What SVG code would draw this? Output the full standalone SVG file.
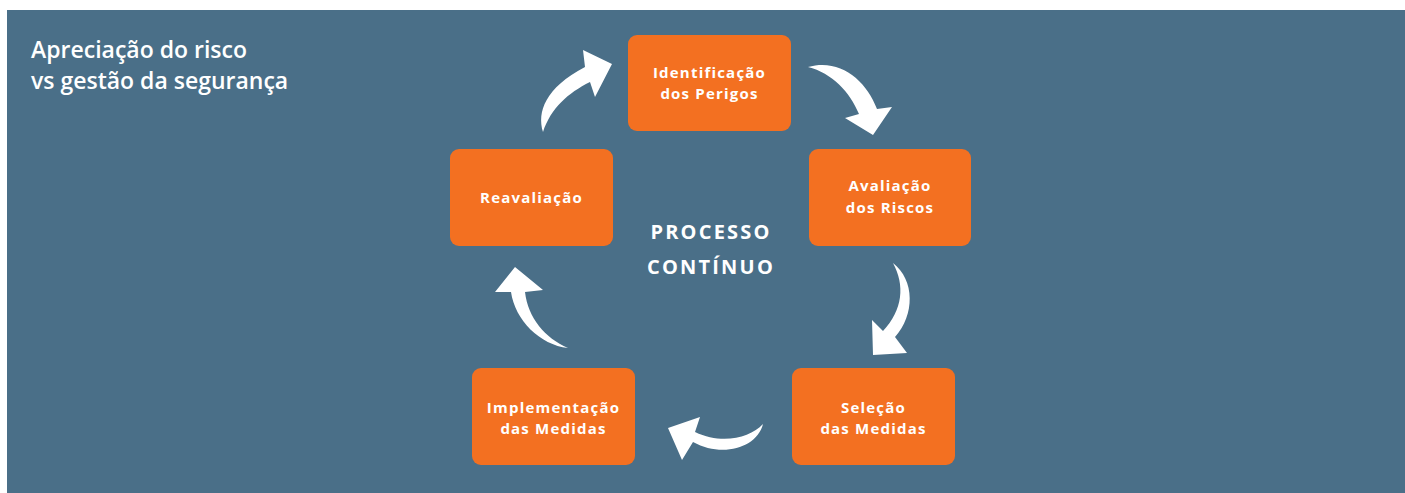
<svg xmlns="http://www.w3.org/2000/svg" width="1405" height="493" viewBox="0 0 1405 493">
<style>
.node rect{fill:#f37021;}
.node text{fill:#ffffff;font-family:"Open Sans","Noto Sans",sans-serif;font-weight:700;font-size:15px;letter-spacing:1.2px;text-anchor:middle;}
.title{fill:#ffffff;font-family:"Open Sans","Noto Sans",sans-serif;font-weight:600;font-size:23px;}
.center{fill:#ffffff;font-family:"Open Sans","Noto Sans",sans-serif;font-weight:700;font-size:20px;letter-spacing:2.2px;text-anchor:middle;}
.arrow{fill:#ffffff;stroke:none;}
</style>
<rect x="7" y="10" width="1398" height="483" fill="#4a6f88"/>
<text class="title" x="31" y="58">Apreciação do risco</text>
<text class="title" x="31" y="89">vs gestão da segurança</text>
<text class="center" x="711" y="239">PROCESSO</text>
<text class="center" x="711" y="274">CONTÍNUO</text>
<g id="node-identificacao" class="node">
<rect x="628" y="35" width="163" height="96" rx="9"/>
<text x="709.5" y="78">Identificação</text>
<text x="709.5" y="99">dos Perigos</text>
</g>
<g id="node-avaliacao" class="node">
<rect x="809" y="149" width="162" height="97" rx="9"/>
<text x="890" y="191">Avaliação</text>
<text x="890" y="213">dos Riscos</text>
</g>
<g id="node-selecao" class="node">
<rect x="792" y="368" width="163" height="97" rx="9"/>
<text x="873.5" y="413">Seleção</text>
<text x="873.5" y="434">das Medidas</text>
</g>
<g id="node-implementacao" class="node">
<rect x="472" y="368" width="163" height="97" rx="9"/>
<text x="553.5" y="413">Implementação</text>
<text x="553.5" y="434">das Medidas</text>
</g>
<g id="node-reavaliacao" class="node">
<rect x="450" y="149" width="163" height="97" rx="9"/>
<text x="531.5" y="203">Reavaliação</text>
</g>
<g id="connectors">
<path class="arrow" d="M543,132 C537,112 545,88 585,67 L583,50 L612,64 L595,97 L590,82 C568,93 551,108 543,132 Z"/>
<path class="arrow" d="M808,67 C840,58 866,80 877,109 L892,107 L873,135 L845,118 L859,114 C850,92 832,73 808,67 Z"/>
<path class="arrow" d="M893,263 C915,280 915,315 895,337 L907,353 L873,355 L872,320 L883,331 C903,310 905,285 893,263 Z"/>
<path class="arrow" d="M763,424 C750,438 722,445 695,432 L700,417 L668,428 L682,460 L693,442 C722,458 757,448 763,424 Z"/>
<path class="arrow" d="M568,348 C540,345 515,320 511,292 L495,292 L515,267 L543,290 L525,292 C528,318 545,338 568,348 Z"/>
</g>
</svg>
